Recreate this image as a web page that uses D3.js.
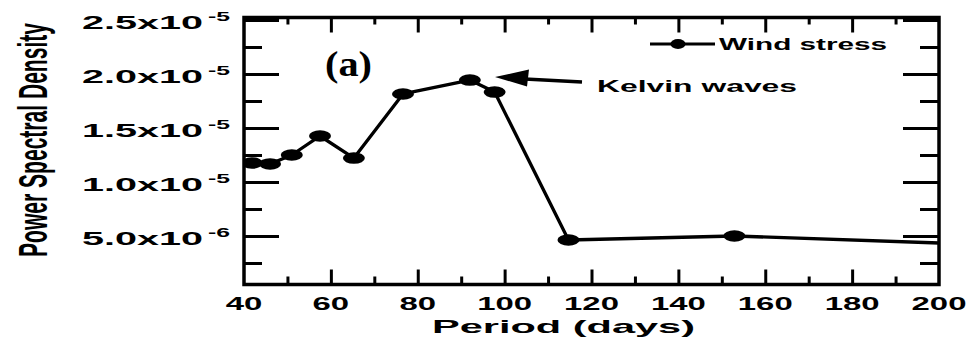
<!DOCTYPE html>
<html>
<head>
<meta charset="utf-8">
<script src="https://cdn.jsdelivr.net/npm/d3@7"></script>
<style>
  html, body { margin: 0; padding: 0; background: #fff; }
  svg { display: block; }
  text { fill: #000; }
</style>
</head>
<body>
<svg id="chart" width="973" height="337"></svg>
<script>
// Wind stress power spectrum
const periods = [41.8, 46, 51, 57.5, 65.3, 76.6, 92, 97.7, 114.7, 152.9, 230];
const psd = [1.176e-5, 1.167e-5, 1.25e-5, 1.426e-5, 1.222e-5, 1.815e-5, 1.944e-5, 1.833e-5, 4.63e-6, 5.0e-6, 3.94e-6];

const xMajorTicks = [40, 60, 80, 100, 120, 140, 160, 180, 200];
const xMinorTicks = [50, 70, 90, 110, 130, 150, 170, 190];
const yMajorTicks = [5e-6, 1e-5, 1.5e-5, 2e-5, 2.5e-5];
const yMinorTicks = [2.5e-6, 7.5e-6, 1.25e-5, 1.75e-5, 2.25e-5];
const yTickMantissa = ["5.0", "1.0", "1.5", "2.0", "2.5"];
const yTickExponent = ["-6", "-5", "-5", "-5", "-5"];

const seriesName = "Wind stress";
const xTitle = "Period (days)";
const yTitle = "Power Spectral Density";
const panelTag = "(a)";
const noteText = "Kelvin waves";

const svg = d3.select("#chart");
const frame = { left: 244, right: 939, top: 17.5, bottom: 284.5 };

const x = d3.scaleLinear().domain([40, 200]).range([frame.left, frame.right]);
const y = d3.scaleLinear().domain([0, 2.5e-5]).range([290, 20]);

const FONT = "'Liberation Sans', Arial, sans-serif";

// clip for data
svg.append("defs").append("clipPath").attr("id", "plot-clip")
  .append("rect")
  .attr("x", frame.left).attr("y", frame.top)
  .attr("width", frame.right - frame.left).attr("height", frame.bottom - frame.top);

// tick marks on all four sides, pointing inward
function tickAxis(axis, tx, ty, values, size) {
  const g = svg.append("g")
    .attr("transform", `translate(${tx},${ty})`)
    .call(axis.tickValues(values).tickSize(size).tickSizeOuter(0).tickFormat(""));
  g.select(".domain").remove();
  g.selectAll(".tick line").attr("stroke", "#000").attr("stroke-width", 3);
  return g;
}
tickAxis(d3.axisBottom(x), 0, frame.bottom, xMajorTicks.slice(1, -1), -15);
tickAxis(d3.axisBottom(x), 0, frame.bottom, xMinorTicks, -8);
tickAxis(d3.axisTop(x), 0, frame.top, xMajorTicks.slice(1, -1), -15);
tickAxis(d3.axisTop(x), 0, frame.top, xMinorTicks, -7);
tickAxis(d3.axisLeft(y), frame.left, 0, yMajorTicks, -35);
tickAxis(d3.axisLeft(y), frame.left, 0, yMinorTicks, -18);
tickAxis(d3.axisRight(y), frame.right, 0, yMajorTicks, -36);
tickAxis(d3.axisRight(y), frame.right, 0, yMinorTicks, -19);

// frame
svg.append("rect")
  .attr("x", frame.left).attr("y", frame.top)
  .attr("width", frame.right - frame.left).attr("height", frame.bottom - frame.top)
  .attr("fill", "none").attr("stroke", "#000").attr("stroke-width", 3.5);

// x tick labels
svg.append("g").selectAll("text")
  .data(xMajorTicks)
  .join("text")
  .attr("x", d => x(d))
  .attr("y", 310)
  .attr("text-anchor", "middle")
  .attr("font-family", FONT)
  .attr("font-weight", "bold")
  .attr("font-size", 19)
  .attr("textLength", d => String(d).length * 18.3)
  .attr("lengthAdjust", "spacingAndGlyphs")
  .text(d => d);

// y tick labels: mantissa x 10 with superscript exponent
const yl = svg.append("g");
yMajorTicks.forEach((v, i) => {
  yl.append("text")
    .attr("x", 203).attr("y", y(v) + 8.5)
    .attr("text-anchor", "end")
    .attr("font-family", FONT).attr("font-weight", "bold").attr("font-size", 18)
    .attr("textLength", 121).attr("lengthAdjust", "spacingAndGlyphs")
    .text(yTickMantissa[i] + "x10");
  yl.append("text")
    .attr("x", 208).attr("y", y(v) + 0.5)
    .attr("font-family", FONT).attr("font-weight", "bold").attr("font-size", 13)
    .attr("textLength", 22).attr("lengthAdjust", "spacingAndGlyphs")
    .text(yTickExponent[i]);
});

// axis titles
svg.append("text")
  .attr("x", 432).attr("y", 333)
  .attr("font-family", FONT).attr("font-weight", "bold").attr("font-size", 19)
  .attr("textLength", 263).attr("lengthAdjust", "spacingAndGlyphs")
  .text(xTitle);

// vertical title: tall, condensed glyphs (widened across the baseline)
svg.append("text")
  .attr("transform", "translate(47,257) scale(1.9,1) rotate(-90)")
  .attr("font-family", FONT)
  .attr("font-weight", "bold")
  .attr("font-size", 21.5)
  .attr("textLength", 234).attr("lengthAdjust", "spacingAndGlyphs")
  .text(yTitle);

// data line and markers
const pts = periods.map((p, i) => [p, psd[i]]);
const plot = svg.append("g").attr("clip-path", "url(#plot-clip)");
plot.append("path")
  .datum(pts)
  .attr("fill", "none").attr("stroke", "#000").attr("stroke-width", 3.3)
  .attr("stroke-linejoin", "round")
  .attr("d", d3.line().x(d => x(d[0])).y(d => y(d[1])));
plot.selectAll("ellipse")
  .data(pts)
  .join("ellipse")
  .attr("cx", d => x(d[0])).attr("cy", d => y(d[1]))
  .attr("rx", 11).attr("ry", 5.8)
  .attr("fill", "#000");

// panel tag
svg.append("text")
  .attr("x", 325).attr("y", 76)
  .attr("font-family", "'Liberation Serif', 'Times New Roman', serif")
  .attr("font-weight", "bold").attr("font-size", 36)
  .attr("textLength", 47).attr("lengthAdjust", "spacingAndGlyphs")
  .text(panelTag);

// annotation arrow
svg.append("line")
  .attr("x1", 582).attr("y1", 82).attr("x2", 520).attr("y2", 78.7)
  .attr("stroke", "#000").attr("stroke-width", 3.5);
svg.append("path")
  .attr("d", "M495,77 L529,69.5 L527,86.5 Z")
  .attr("fill", "#000");
svg.append("text")
  .attr("x", 597).attr("y", 92)
  .attr("font-family", FONT).attr("font-weight", "bold").attr("font-size", 17)
  .attr("textLength", 200).attr("lengthAdjust", "spacingAndGlyphs")
  .text(noteText);

// legend
const lg = svg.append("g");
lg.append("line")
  .attr("x1", 650).attr("y1", 44).attr("x2", 715).attr("y2", 44)
  .attr("stroke", "#000").attr("stroke-width", 3);
lg.append("ellipse")
  .attr("cx", 678).attr("cy", 44).attr("rx", 7.5).attr("ry", 5)
  .attr("fill", "#000");
lg.append("text")
  .attr("x", 719).attr("y", 50)
  .attr("font-family", FONT).attr("font-weight", "bold").attr("font-size", 16)
  .attr("textLength", 168).attr("lengthAdjust", "spacingAndGlyphs")
  .text(seriesName);
</script>
</body>
</html>
